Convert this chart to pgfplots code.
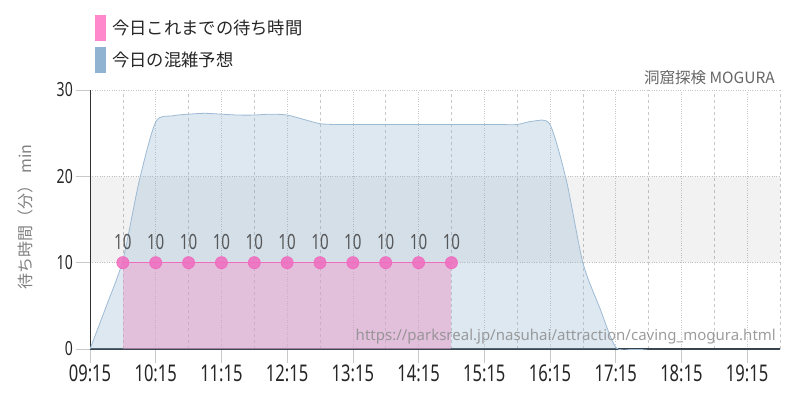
\documentclass[border=0pt]{standalone}
\usepackage{pgfplots}
\pgfplotsset{compat=1.18}
\usepackage{fontspec}
\setmainfont{Noto Sans}
\newfontfamily\cjk{Noto Sans CJK JP}
\newfontfamily\cond[FakeStretch=0.72]{Noto Sans}
\definecolor{pinkL}{HTML}{FF88CC}
\definecolor{blueL}{HTML}{8FB3D1}
\definecolor{pinkF}{HTML}{E798C7}
\definecolor{pinkM}{HTML}{F06CBF}
\definecolor{blueLine}{HTML}{9DBAD4}
\definecolor{gridc}{HTML}{C8C8C8}
\begin{document}
\begin{tikzpicture}[x=1pt,y=1pt]
\useasboundingbox (0,0) rectangle (800,400);
\begin{axis}[
  at={(90pt,51pt)}, anchor=south west,
  scale only axis, width=690pt, height=259pt,
  xmin=9.25, xmax=19.75, ymin=0, ymax=30,
  axis x line=bottom, axis y line=left, axis line style={-},
  x axis line style={black, line width=1.5pt},
  y axis line style={black!80, line width=0.8pt},
  xtick={9.25,10.25,11.25,12.25,13.25,14.25,15.25,16.25,17.25,18.25,19.25},
  xticklabels={09:15,10:15,11:15,12:15,13:15,14:15,15:15,16:15,17:15,18:15,19:15},
  minor xtick={9.75,10.75,11.75,12.75,13.75,14.75,15.75,16.75,17.75,18.75,19.75},
  ytick={0,10,20,30},
  grid=both,
  major grid style={gridc, dotted, line width=0.7pt},
  minor grid style={gridc, dashed, line width=0.7pt},
  tick style={gridc, line width=0.7pt},
  major tick length=14pt, minor tick length=0pt,
  tick align=outside,
  /pgf/number format/assume math mode=true,
  xticklabel style={font=\cond\fontsize{23}{24}\selectfont, text=black!85, inner sep=2pt},
  yticklabel style={font=\cond\fontsize{19.5}{20}\selectfont, text=black!85, inner sep=3pt},
]
\addplot[draw=none, fill=black, fill opacity=0.05] coordinates {(9.25,10) (19.75,10) (19.75,20) (9.25,20) (9.25,10)};
\addplot[smooth, tension=0.45, draw=blueLine, line width=0.8pt, fill=blueL, fill opacity=0.3] coordinates {
(9.25,0) (9.5,5.0) (9.75,10.3) (10.0,19.5) (10.25,26.3) (10.5,27.0) (10.75,27.2) (11.0,27.3) (11.25,27.2) (11.5,27.1) (11.75,27.1) (12.0,27.2) (12.25,27.1) (12.5,26.6) (12.75,26.1) (13.0,26.0) (13.25,26.0) (13.5,26.0) (13.75,26.0) (14.0,26.0) (14.25,26.0) (14.5,26.0) (14.75,26.0) (15.0,26.0) (15.25,26.0) (15.5,26.0) (15.75,26.0) (16.0,26.4) (16.25,26.0) (16.5,19.5) (16.75,10.0) (17.0,4.9) (17.25,0.2) (17.5,-0.1) (17.75,0) (18.0,0) (18.25,0) (18.5,0) (18.75,0) (19.0,0) (19.25,0) (19.5,0) (19.75,0)
} \closedcycle;
\addplot[draw=none, fill=pinkF, fill opacity=0.5] coordinates {(9.75,10) (14.75,10)} \closedcycle;
\addplot[pinkM, line width=0.8pt, mark=*, mark size=6pt,
  mark options={draw=none, fill=pinkM, fill opacity=0.85},
  nodes near coords, point meta=y,
  nodes near coords style={font=\cond\fontsize{21}{22}\selectfont, text=black!75, anchor=south, inner sep=0pt, yshift=12.5pt}]
 coordinates {(9.75,10) (10.25,10) (10.75,10) (11.25,10) (11.75,10) (12.25,10) (12.75,10) (13.25,10) (13.75,10) (14.25,10) (14.75,10)};
\end{axis}
\fill[pinkL] (95,385) rectangle (106,359);
\node[anchor=west, font=\cjk\fontsize{17.3}{20}\selectfont, text=black!85, inner sep=0pt] at (112,372) {今日これまでの待ち時間};
\fill[blueL] (95,353) rectangle (106,327);
\node[anchor=west, font=\cjk\fontsize{17.3}{20}\selectfont, text=black!85, inner sep=0pt] at (112,340) {今日の混雑予想};
\node[anchor=east, font=\cjk\fontsize{15.5}{18}\selectfont, text=black!60, inner sep=0pt] at (775,322) {洞窟探検 MOGURA};
\node[anchor=base east, font=\fontsize{15}{18}\selectfont, text=black!45, text opacity=0.85, inner sep=0pt] at (776,60) {https://parksreal.jp/nasuhai/attraction/caving\_mogura.html};
\node[rotate=90, font=\cjk\fontsize{16}{18}\selectfont, text=black!50, inner sep=0pt] at (25,183) {待ち時間（分） min};
\end{tikzpicture}
\end{document}
